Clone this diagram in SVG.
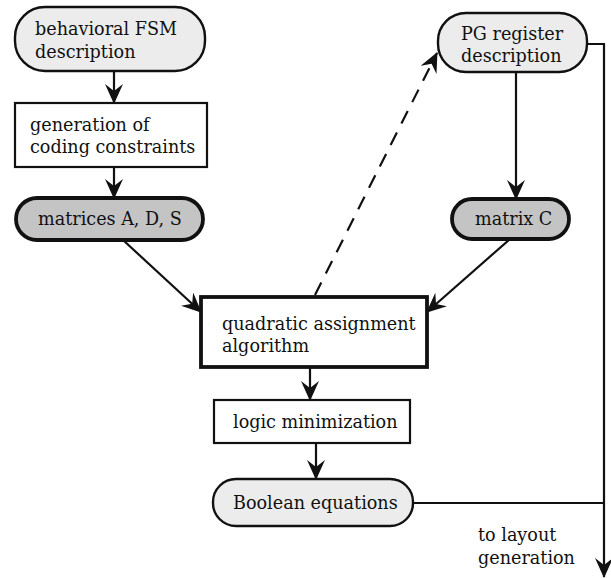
<svg xmlns="http://www.w3.org/2000/svg" width="611" height="578" viewBox="0 0 611 578">
<style>
text{font-family:"DejaVu Serif","Liberation Serif",serif;font-size:17.6px;fill:#111}
.light{fill:#ececec;stroke:#111;stroke-width:2.4}
.dark{fill:#c4c4c4;stroke:#111;stroke-width:3.8}
.plain{fill:#fff;stroke:#111;stroke-width:2.2}
.thick{fill:#fff;stroke:#111;stroke-width:3.8}
.c{fill:none;stroke:#111;stroke-width:2.2}
</style>
<defs>
<marker id="ah" viewBox="0 0 20 18" refX="19" refY="9" markerWidth="20" markerHeight="18" markerUnits="userSpaceOnUse" orient="auto">
<path d="M0,0 L20,9 L0,18 L7,9 Z" fill="#111"/>
</marker>
</defs>
<g id="connectors">
<line class="c" x1="114" y1="71" x2="114" y2="103" marker-end="url(#ah)"/>
<line class="c" x1="114" y1="167" x2="114" y2="198" marker-end="url(#ah)"/>
<line class="c" x1="516" y1="72" x2="516" y2="199" marker-end="url(#ah)"/>
<line class="c" x1="123" y1="240" x2="201" y2="312" marker-end="url(#ah)"/>
<line class="c" x1="510" y1="239" x2="427" y2="312" marker-end="url(#ah)"/>
<line class="c" x1="315" y1="295" x2="437" y2="53" stroke-dasharray="14,10" marker-end="url(#ah)"/>
<line class="c" x1="310" y1="367" x2="310" y2="400" marker-end="url(#ah)"/>
<line class="c" x1="316" y1="443" x2="316" y2="479" marker-end="url(#ah)"/>
<polyline class="c" points="587,44 604,44 604,577" marker-end="url(#ah)"/>
<line class="c" x1="413" y1="503" x2="604" y2="503"/>
</g>
<g id="n1"><rect class="light" x="15" y="7" width="190" height="64" rx="30"/>
<text x="35" y="35">behavioral FSM</text><text x="35" y="58">description</text></g>
<g id="n2"><rect class="plain" x="15" y="103" width="192" height="64"/>
<text x="30" y="131">generation of</text><text x="30" y="153">coding constraints</text></g>
<g id="n3"><rect class="dark" x="16" y="198" width="187" height="42" rx="21"/>
<text x="38" y="225">matrices A, D, S</text></g>
<g id="n4"><rect class="light" x="438" y="13" width="149" height="59" rx="28"/>
<text x="461" y="40">PG register</text><text x="461" y="62">description</text></g>
<g id="n5"><rect class="dark" x="452" y="199" width="117" height="40" rx="20"/>
<text x="475" y="225">matrix C</text></g>
<g id="n6"><rect class="thick" x="201" y="297" width="226" height="70"/>
<text x="222" y="330">quadratic assignment</text><text x="222" y="352">algorithm</text></g>
<g id="n7"><rect class="plain" x="214" y="400" width="196" height="43"/>
<text x="233" y="428">logic minimization</text></g>
<g id="n8"><rect class="light" x="213" y="479" width="200" height="47" rx="23"/>
<text x="233" y="509">Boolean equations</text></g>
<g id="label"><text x="478" y="541">to layout</text><text x="478" y="564">generation</text></g>
</svg>
